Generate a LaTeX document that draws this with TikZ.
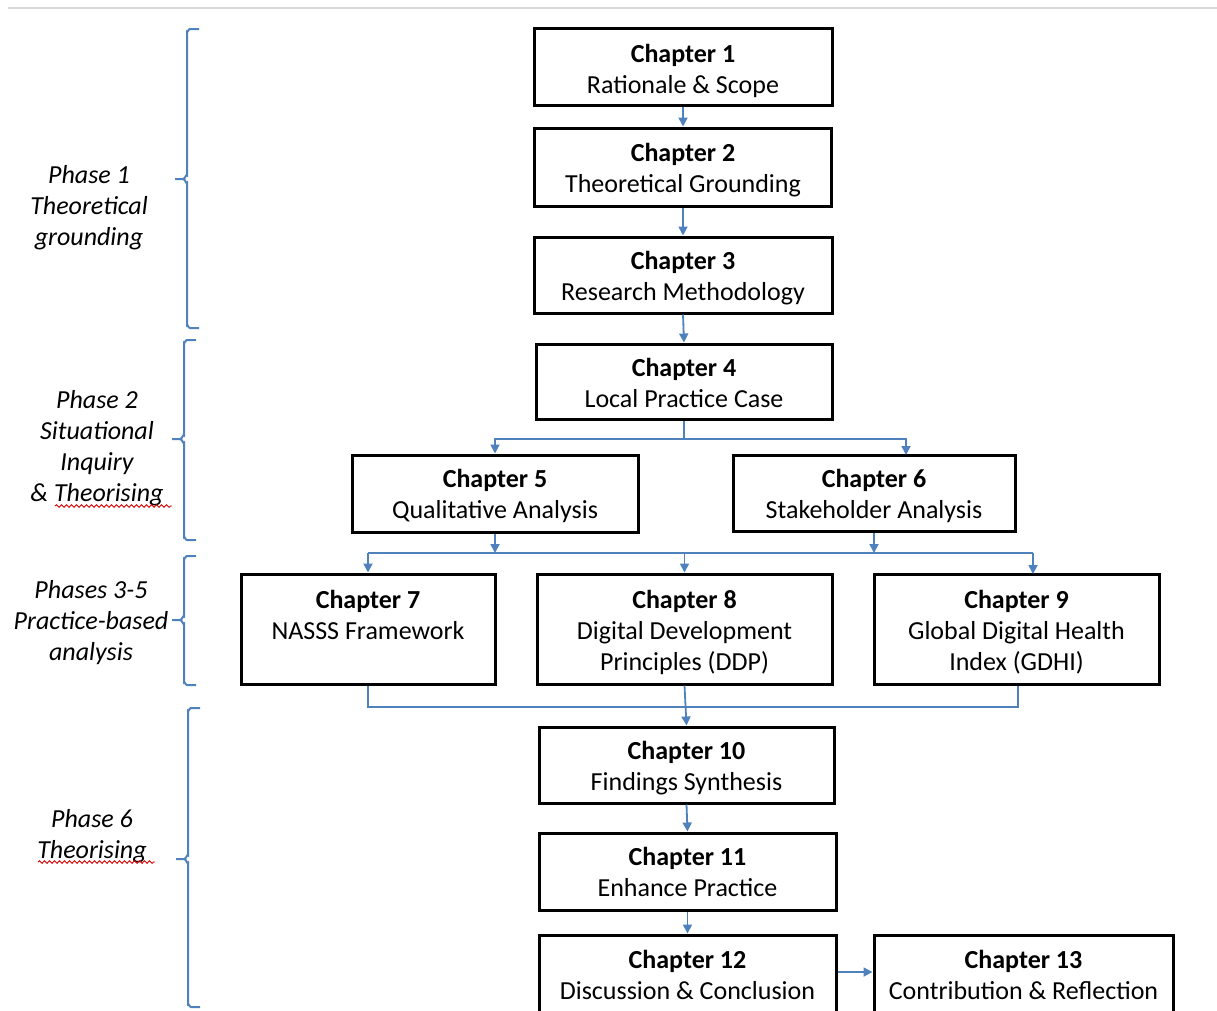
\documentclass[tikz,border=0pt]{standalone}
\usepackage{fontspec}
\setmainfont{Carlito}
\usetikzlibrary{arrows.meta,decorations.pathmorphing}
\definecolor{linkblue}{RGB}{79,129,189}
\definecolor{rulegray}{RGB}{215,215,215}
\newcommand{\phasebrace}[4]{% x of spine, top y, tip y, bottom y
  \draw[bracestyle] (#1+12,#2) -- (#1+3,#2) to[out=180,in=-90] (#1,#2+3)
        -- (#1,#3-4) to[out=90,in=0] (#1-4,#3) -- (#1-12,#3);
  \draw[bracestyle] (#1-4,#3) to[out=0,in=-90] (#1,#3+4)
        -- (#1,#4-3) to[out=90,in=180] (#1+3,#4) -- (#1+12,#4);
}
% box name, centre x, centre y, width, height, text centre y, text
\newcommand{\chapnode}[7]{%
  \node[chapbox,minimum width=#4pt,minimum height=#5pt] (#1) at (#2,#3) {};
  \node[chaptext] (#1t) at (#2,#6) {#7};
}
\begin{document}
\begin{tikzpicture}[x=1pt,y=-1pt,
  chapbox/.style={draw=black,line width=3pt,inner sep=0pt},
  chaptext/.style={inner sep=0pt,align=center,font=\fontsize{26}{31}\selectfont},
  phase/.style={inner sep=0pt,align=center,font=\fontsize{26}{31}\selectfont\itshape},
  conn/.style={draw=linkblue,line width=1.8pt},
  arr/.style={conn,-{Triangle[width=9pt,length=9pt]}},
  bracestyle/.style={draw=linkblue,line width=2pt},
  squiggle/.style={draw=red!85!black,line width=0.9pt,decorate,
    decoration={snake,amplitude=1.3pt,segment length=5pt}}]
\useasboundingbox (0,0) rectangle (1217,1010);

% page rule along the top
\draw[rulegray,line width=2pt] (8,8) -- (1217,8);

% chapter boxes
\chapnode{b1}{683}{66.5}{298}{77}{71}{\textbf{Chapter 1}\\Rationale \& Scope}
\chapnode{b2}{683}{167}{297}{78}{170.5}{\textbf{Chapter 2}\\Theoretical Grounding}
\chapnode{b3}{683}{275}{298}{76}{278.5}{\textbf{Chapter 3}\\Research Methodology}
\chapnode{b4}{684}{381.5}{296}{75}{383}{\textbf{Chapter 4}\\Local Practice Case}
\chapnode{b5}{495}{493.5}{286}{77}{495.5}{\textbf{Chapter 5}\\Qualitative Analysis}
\chapnode{b6}{874}{493}{282}{76}{496}{\textbf{Chapter 6}\\Stakeholder Analysis}
\chapnode{b7}{368}{629}{254}{110}{615}{\textbf{Chapter 7}\\NASSS Framework}
\chapnode{b8}{684.5}{629}{295}{110}{632.5}{\textbf{Chapter 8}\\Digital Development\\Principles (DDP)}
\chapnode{b9}{1016.5}{629}{285}{110}{632.5}{\textbf{Chapter 9}\\Global Digital Health\\Index (GDHI)}
\chapnode{b10}{686.5}{765}{295}{76}{768.5}{\textbf{Chapter 10}\\Findings Synthesis}
\chapnode{b11}{687.5}{871.5}{297}{77}{872}{\textbf{Chapter 11}\\Enhance Practice}
\chapnode{b12}{687.5}{976}{297}{82}{975}{\textbf{Chapter 12}\\Discussion \& Conclusion}
\chapnode{b13}{1023.5}{976}{299}{82}{975}{\textbf{Chapter 13}\\Contribution \& Reflection}

% junction points
\coordinate (split4) at (684,439);
\coordinate (b6in) at (906,455);
\coordinate (bar) at (685,553);
\coordinate (bar9) at (1033,574);
\coordinate (merge) at (687,707);

% connectors
\draw[arr] (b1.south) -- (b2.north);
\draw[arr] (b2.south) -- (b3.north);
\draw[arr] (b3.south) -- (b4.north);
\draw[conn] (b4.south) -- (split4);
\draw[arr] (split4) -| (b5.north);
\draw[arr] (split4) -| (b6in);
\draw[arr] (b5.south) -- (b5.south |- bar);
\draw[arr] (b6.south) -- (b6.south |- bar);
\draw[conn] (b7.north |- bar) -- (bar9 |- bar);
\draw[arr] (b7.north |- bar) -- (b7.north);
\draw[arr] (b8.north |- bar) -- (b8.north);
\draw[arr] (bar9 |- bar) -- (bar9);
\draw[conn] (b7.south) -- (b7.south |- merge) -- ([xshift=1.5pt]b9.south |- merge) -- ([xshift=1.5pt]b9.south);
\draw[arr] (b8.south) -- (b10.north);
\draw[arr] (b10.south) -- (b11.north);
\draw[arr] (b11.south) -- (b12.north);
\draw[arr] ([yshift=4pt]b12.east) -- ([yshift=4pt]b13.west);

% phase braces
\phasebrace{187}{29}{179}{328}
\phasebrace{184}{340}{439}{540}
\phasebrace{184}{556}{620}{685}
\phasebrace{188}{708}{859}{1007}

% phase labels
\node[phase] (p1) at (89,207.5) {Phase 1\\Theoretical\\grounding};
\node[phase] (p2) at (97,448) {Phase 2\\Situational\\Inquiry\\\& Theorising};
\node[phase] (p3) at (91,622.5) {Phases 3-5\\Practice-based\\analysis};
\node[phase] (p6) at (92,836) {Phase 6\\Theorising};

% spelling marks under "Theorising"
\draw[squiggle] (55,506) -- (172,506);
\draw[squiggle] (38,862) -- (155,862);
\end{tikzpicture}
\end{document}
